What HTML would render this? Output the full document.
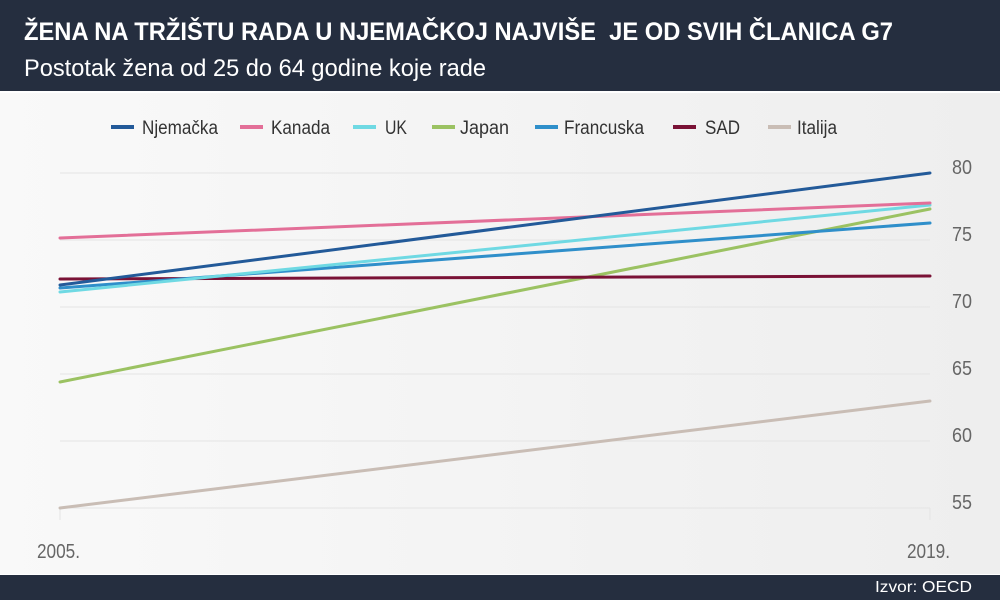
<!DOCTYPE html>
<html><head><meta charset="utf-8"><style>
body{margin:0;width:1000px;height:600px;overflow:hidden;font-family:"Liberation Sans",sans-serif;}
.hdr{position:absolute;left:0;top:0;width:1000px;height:91px;background:#252e3f;}
.bg{position:absolute;left:0;top:93px;width:1000px;height:481px;background:linear-gradient(90deg,#f9f9f9,#eeeeee);}
.ftr{position:absolute;left:0;top:575px;width:1000px;height:25px;background:#252e3f;}
</style></head><body>
<div class="hdr"></div>
<div class="bg"></div>
<div class="ftr"></div>
<svg style="position:absolute;left:0;top:0" width="1000" height="600" font-family="Liberation Sans, sans-serif">
<text x="24" y="40" fill="#fff" font-weight="bold" font-size="25" textLength="869" lengthAdjust="spacingAndGlyphs">ŽENA NA TRŽIŠTU RADA U NJEMAČKOJ NAJVIŠE&#160; JE OD SVIH ČLANICA G7</text>
<text x="24" y="76" fill="#fff" font-size="24" textLength="462" lengthAdjust="spacingAndGlyphs">Postotak žena od 25 do 64 godine koje rade</text>
<text x="875" y="592" fill="#fff" font-size="16" textLength="97" lengthAdjust="spacingAndGlyphs">Izvor: OECD</text>
<g stroke="#e4e4e4" stroke-width="1">
<line x1="60" x2="930" y1="173" y2="173"/><line x1="60" x2="930" y1="240" y2="240"/>
<line x1="60" x2="930" y1="307" y2="307"/><line x1="60" x2="930" y1="374" y2="374"/>
<line x1="60" x2="930" y1="441" y2="441"/><line x1="60" x2="930" y1="508" y2="508"/>
<line x1="60" x2="60" y1="508" y2="520"/><line x1="930" x2="930" y1="508" y2="520"/>
</g>
<g fill="#666" font-size="20">
<text x="952" y="174" textLength="20" lengthAdjust="spacingAndGlyphs">80</text><text x="952" y="241" textLength="20" lengthAdjust="spacingAndGlyphs">75</text><text x="952" y="308" textLength="20" lengthAdjust="spacingAndGlyphs">70</text>
<text x="952" y="375" textLength="20" lengthAdjust="spacingAndGlyphs">65</text><text x="952" y="442" textLength="20" lengthAdjust="spacingAndGlyphs">60</text><text x="952" y="509" textLength="20" lengthAdjust="spacingAndGlyphs">55</text>
<text x="37" y="558" textLength="43" lengthAdjust="spacingAndGlyphs">2005.</text><text x="907" y="558" textLength="43" lengthAdjust="spacingAndGlyphs">2019.</text>
</g>
<g stroke-width="3" fill="none" stroke-linecap="round">
<line x1="60" y1="508" x2="930" y2="401" stroke="#c9bdb5"/>
<line x1="60" y1="382" x2="930" y2="209" stroke="#9bc262"/>
<line x1="60" y1="279" x2="930" y2="276" stroke="#7a1236"/>
<line x1="60" y1="288" x2="930" y2="223" stroke="#2f8fca"/>
<line x1="60" y1="292" x2="930" y2="205" stroke="#6fd9e3"/>
<line x1="60" y1="238" x2="930" y2="203" stroke="#e36f98"/>
<line x1="60" y1="285" x2="930" y2="173" stroke="#235a99"/>
</g>
<g font-size="19" fill="#333">
<rect x="111" y="125" width="23" height="4" fill="#235a99"/><text x="142" y="134" textLength="76" lengthAdjust="spacingAndGlyphs">Njemačka</text>
<rect x="240" y="125" width="23" height="4" fill="#e36f98"/><text x="271" y="134" textLength="59" lengthAdjust="spacingAndGlyphs">Kanada</text>
<rect x="353" y="125" width="23" height="4" fill="#6fd9e3"/><text x="385" y="134" textLength="22" lengthAdjust="spacingAndGlyphs">UK</text>
<rect x="432" y="125" width="23" height="4" fill="#9bc262"/><text x="460" y="134" textLength="49" lengthAdjust="spacingAndGlyphs">Japan</text>
<rect x="535" y="125" width="23" height="4" fill="#2f8fca"/><text x="564" y="134" textLength="80" lengthAdjust="spacingAndGlyphs">Francuska</text>
<rect x="673" y="125" width="23" height="4" fill="#7a1236"/><text x="705" y="134" textLength="35" lengthAdjust="spacingAndGlyphs">SAD</text>
<rect x="768" y="125" width="23" height="4" fill="#c9bdb5"/><text x="797" y="134" textLength="40" lengthAdjust="spacingAndGlyphs">Italija</text>
</g>
</svg>
</body></html>
